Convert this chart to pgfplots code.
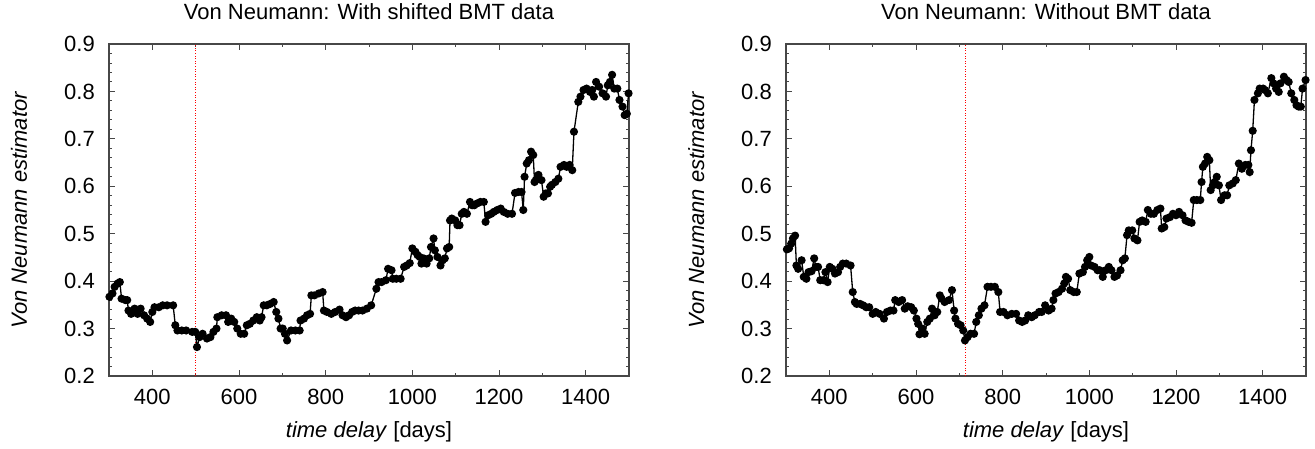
\documentclass[border=0pt]{standalone}
\usepackage{fontspec}
\setmainfont{Liberation Sans}
\usepackage{pgfplots}
\pgfplotsset{compat=1.18}

\pgfplotsset{vnstyle/.style={
  width=520pt, height=332pt, scale only axis,
  xmin=300, xmax=1500, ymin=0.2, ymax=0.9,
  xtick={400,600,800,1000,1200,1400},
  xticklabels={400,600,800,1000,1200,1400},
  ytick={0.2,0.3,0.4,0.5,0.6,0.7,0.8,0.9},
  yticklabels={0.2,0.3,0.4,0.5,0.6,0.7,0.8,0.9},
  minor x tick num=1, minor y tick num=4,
  tick align=inside, xtick pos=both, ytick pos=both,
  major tick length=6pt, minor tick length=3pt,
  axis line style={black!72, line width=1.3pt},
  every tick/.style={black!72, line width=0.9pt},
  font=\fontsize{22}{26}\selectfont,
  xticklabel style={anchor=base, yshift=-29pt, inner sep=0pt},
  yticklabel style={anchor=east, xshift=-14pt, inner sep=0pt},
  every axis title shift=0pt,
  title style={at={(0.5,1.0744)}, anchor=base, inner sep=0pt},
  xlabel style={at={(0.5,-0.1867)}, anchor=base, inner sep=0pt},
  ylabel style={at={(-0.1577,0.5)}, anchor=base, inner sep=0pt},
  xlabel={\textit{time delay} [days]},
  ylabel={\textit{Von Neumann estimator}},
  clip=true,
}}

\pgfplotstableread{
x y
301 0.367
308 0.374
313 0.388
320 0.395
325 0.398
329 0.363
338 0.360
342 0.360
345 0.338
351 0.331
359 0.342
366 0.331
373 0.342
381 0.328
388 0.321
395 0.314
400 0.335
405 0.345
415 0.345
424 0.349
434 0.349
448 0.349
453 0.307
458 0.296
468 0.296
478 0.296
492 0.293
499 0.293
503 0.261
509 0.282
516 0.289
526 0.279
534 0.282
541 0.293
548 0.300
550 0.324
560 0.328
570 0.328
575 0.314
582 0.321
589 0.314
596 0.300
604 0.289
612 0.289
618 0.307
625 0.310
633 0.317
641 0.324
648 0.317
652 0.324
657 0.349
664 0.349
672 0.352
680 0.356
686 0.335
691 0.321
696 0.300
701 0.300
706 0.289
711 0.275
720 0.296
730 0.296
740 0.296
742 0.317
750 0.321
757 0.328
764 0.331
767 0.370
774 0.370
784 0.374
793 0.377
796 0.338
803 0.335
813 0.331
822 0.335
832 0.340
839 0.328
847 0.324
854 0.328
861 0.335
868 0.338
876 0.338
885 0.338
895 0.342
905 0.349
917 0.384
922 0.398
929 0.398
939 0.402
944 0.426
952 0.423
955 0.405
963 0.405
973 0.405
981 0.430
987 0.433
994 0.438
1000 0.469
1007 0.462
1012 0.455
1017 0.451
1021 0.437
1026 0.448
1033 0.437
1039 0.448
1043 0.472
1049 0.490
1052 0.465
1058 0.451
1065 0.433
1070 0.444
1075 0.448
1080 0.469
1085 0.472
1087 0.528
1091 0.532
1099 0.528
1104 0.518
1109 0.518
1114 0.542
1119 0.546
1126 0.542
1133 0.567
1138 0.560
1143 0.560
1150 0.564
1157 0.567
1165 0.567
1169 0.525
1175 0.539
1182 0.542
1188 0.546
1196 0.550
1204 0.553
1211 0.546
1220 0.542
1230 0.542
1237 0.586
1245 0.588
1252 0.588
1256 0.550
1259 0.620
1264 0.648
1269 0.655
1274 0.673
1279 0.666
1282 0.609
1285 0.613
1291 0.624
1298 0.613
1303 0.578
1308 0.585
1313 0.585
1318 0.599
1322 0.603
1330 0.609
1337 0.616
1342 0.641
1350 0.645
1356 0.641
1363 0.645
1369 0.634
1373 0.715
1383 0.778
1388 0.789
1395 0.803
1402 0.806
1410 0.799
1415 0.803
1419 0.789
1424 0.820
1431 0.810
1439 0.796
1447 0.789
1451 0.813
1456 0.820
1461 0.835
1466 0.806
1473 0.806
1478 0.782
1485 0.768
1490 0.750
1495 0.753
1499 0.796
}\shifted

\pgfplotstableread{
x y
302 0.467
307 0.469
312 0.479
316 0.490
321 0.496
324 0.433
328 0.426
336 0.444
341 0.409
347 0.405
352 0.419
359 0.421
365 0.448
369 0.430
374 0.430
379 0.402
386 0.402
391 0.419
396 0.398
401 0.430
407 0.426
413 0.416
420 0.419
425 0.430
431 0.437
439 0.437
449 0.433
454 0.377
459 0.356
463 0.352
471 0.352
478 0.349
485 0.345
492 0.345
500 0.331
507 0.335
516 0.331
526 0.321
533 0.335
541 0.338
548 0.338
552 0.360
560 0.356
568 0.360
574 0.342
581 0.347
589 0.345
595 0.338
601 0.321
605 0.310
608 0.288
615 0.300
620 0.289
626 0.314
632 0.321
637 0.342
643 0.328
649 0.335
655 0.370
659 0.363
666 0.356
676 0.360
683 0.381
688 0.338
691 0.321
697 0.310
703 0.307
709 0.296
713 0.275
719 0.282
726 0.289
734 0.289
739 0.314
745 0.328
751 0.342
758 0.349
765 0.388
773 0.388
782 0.388
790 0.377
794 0.335
802 0.335
811 0.328
821 0.331
831 0.331
838 0.317
845 0.314
852 0.317
859 0.328
867 0.324
874 0.328
884 0.335
890 0.335
898 0.349
906 0.338
913 0.342
917 0.360
922 0.374
929 0.377
937 0.384
942 0.395
946 0.409
951 0.405
956 0.381
964 0.377
971 0.377
977 0.416
985 0.419
990 0.430
995 0.444
1000 0.451
1004 0.433
1012 0.430
1019 0.423
1024 0.423
1031 0.409
1038 0.423
1045 0.430
1051 0.423
1058 0.409
1064 0.412
1072 0.423
1077 0.444
1082 0.448
1087 0.497
1091 0.507
1099 0.507
1104 0.490
1111 0.486
1116 0.525
1122 0.528
1130 0.525
1135 0.550
1142 0.542
1149 0.542
1157 0.550
1164 0.553
1167 0.511
1173 0.514
1178 0.532
1186 0.535
1193 0.542
1200 0.539
1207 0.546
1215 0.539
1222 0.528
1229 0.525
1236 0.523
1241 0.571
1248 0.571
1256 0.571
1259 0.609
1262 0.641
1267 0.648
1272 0.662
1277 0.655
1280 0.592
1285 0.602
1289 0.609
1294 0.620
1299 0.602
1304 0.571
1312 0.581
1318 0.581
1323 0.602
1331 0.606
1338 0.613
1345 0.648
1352 0.637
1360 0.645
1367 0.645
1370 0.630
1373 0.676
1377 0.717
1381 0.782
1389 0.796
1393 0.806
1401 0.806
1405 0.803
1412 0.796
1420 0.828
1425 0.817
1431 0.806
1437 0.799
1441 0.817
1449 0.831
1455 0.824
1460 0.820
1466 0.796
1473 0.782
1478 0.771
1483 0.768
1488 0.768
1492 0.806
1499 0.824
}\without

\begin{document}
\begin{tikzpicture}
\useasboundingbox (0,0) rectangle (1315pt,449pt);
\begin{axis}[vnstyle, at={(109pt,73pt)}, anchor=south west,
  title={Von Neumann: With shifted BMT data}]
  \addplot[red, dotted, line width=0.6pt, forget plot] coordinates {(500,0.2) (500,0.9)};
  \addplot[black, line width=1.3pt, mark=*, mark size=3.4pt, mark options={fill=black}] table[x=x,y=y] {\shifted};
\end{axis}
\begin{axis}[vnstyle, at={(786pt,73pt)}, anchor=south west,
  title={Von Neumann: Without BMT data}]
  \addplot[red, dotted, line width=0.6pt, forget plot] coordinates {(714,0.2) (714,0.9)};
  \addplot[black, line width=1.3pt, mark=*, mark size=3.4pt, mark options={fill=black}] table[x=x,y=y] {\without};
\end{axis}
\end{tikzpicture}
\end{document}
